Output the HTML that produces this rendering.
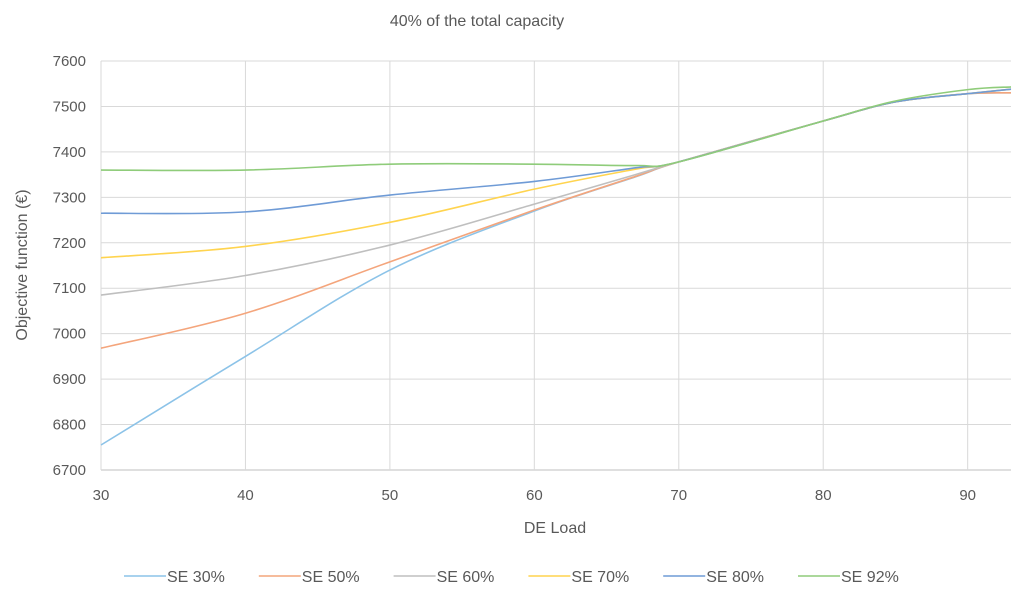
<!DOCTYPE html>
<html><head><meta charset="utf-8"><style>
body{margin:0;background:#fff;}
svg text{font-family:"Liberation Sans",sans-serif;fill:#595959;}
</style></head><body>
<svg id="chart" width="1024" height="594" xmlns="http://www.w3.org/2000/svg">
<text x="477" y="26" font-size="16" text-anchor="middle">40% of the total capacity</text>
<g id="grid"></g>
<g id="lines"></g>
<text x="555" y="533" font-size="16" text-anchor="middle">DE Load</text>
<text transform="translate(27,265) rotate(-90)" font-size="16" text-anchor="middle">Objective  function (€)</text>
<g id="legend"></g>
</svg>
<script>
const xVals=[30,40,50,60,67,70,80,85,90,93];
const se30=[6755,6950,7140,7270,7345,7378,7468,7510,7528,7530];
const se50=[6968,7045,7158,7272,7346,7378,7468,7510,7528,7530];
const se60=[7085,7128,7195,7285,7350,7378,7468,7510,7528,7538];
const se70=[7167,7192,7245,7318,7362,7378,7468,7510,7528,7538];
const se80=[7265,7268,7305,7335,7365,7378,7468,7510,7528,7538];
const se92=[7360,7360,7373,7373,7370,7378,7468,7512,7537,7543];
const seriesNames=["SE 30%","SE 50%","SE 60%","SE 70%","SE 80%","SE 92%"];
const colors=["#8cc3e8","#f4a57c","#bfbfbf","#ffd44f","#6f9bd6","#8fcc7a"];
const xTicks=[30,40,50,60,70,80,90];
const yTicks=[6700,6800,6900,7000,7100,7200,7300,7400,7500,7600];
const X0=101,X1=1011,Y0=470,Y1=61;
const xs=v=>X0+(v-30)/(93-30)*(X1-X0);
const ys=v=>Y0-(v-6700)/(7600-6700)*(Y0-Y1);
const NS="http://www.w3.org/2000/svg";
const grid=document.getElementById('grid');
function mk(tag,attrs,parent){const e=document.createElementNS(NS,tag);for(const k in attrs)e.setAttribute(k,attrs[k]);parent.appendChild(e);return e;}
yTicks.forEach(t=>{
 const l=mk('line',{x1:X0,x2:X1,y1:ys(t),y2:ys(t),stroke:t===6700?'#bfbfbf':'#d9d9d9','stroke-width':1},grid);
 
 
 const tx=mk('text',{x:86,y:ys(t)+5,'font-size':15,'text-anchor':'end'},grid);
 tx.textContent=t;
 
 
});
xTicks.forEach(t=>{
 const l=mk('line',{x1:xs(t),x2:xs(t),y1:Y1,y2:Y0,stroke:'#d9d9d9','stroke-width':1},grid);
 
 
 const tx=mk('text',{x:xs(t),y:500,'font-size':15,'text-anchor':'middle'},grid);
 tx.textContent=t;
 
 
});
function smooth(pts){
 let d=`M${pts[0][0]},${pts[0][1]}`;
 for(let i=0;i<pts.length-1;i++){
  const p0=pts[i-1]||pts[i],p1=pts[i],p2=pts[i+1],p3=pts[i+2]||p2;
  const t=0.17;
  const c1=[p1[0]+(p2[0]-p0[0])*t,p1[1]+(p2[1]-p0[1])*t];
  const c2=[p2[0]-(p3[0]-p1[0])*t,p2[1]-(p3[1]-p1[1])*t];
  d+=` C${c1[0]},${c1[1]} ${c2[0]},${c2[1]} ${p2[0]},${p2[1]}`;
 }
 return d;
}
const all=[se30,se50,se60,se70,se80,se92];
const lines=document.getElementById('lines');
all.forEach((s,i)=>{
 const p=mk('path',{d:smooth(s.map((v,j)=>[xs(xVals[j]),ys(v)])),fill:'none',stroke:colors[i],'stroke-width':1.6},lines);
 
 
});
const leg=document.getElementById('legend');
seriesNames.forEach((n,i)=>{
 const x=124+i*134.8;
 const g=mk('g',{},leg);
 
 
 mk('line',{x1:x,x2:x+42,y1:576,y2:576,stroke:colors[i],'stroke-width':1.6},g);
 const t=mk('text',{x:x+43,y:582,'font-size':16},g);
 t.textContent=n;
});
</script>
</body></html>
